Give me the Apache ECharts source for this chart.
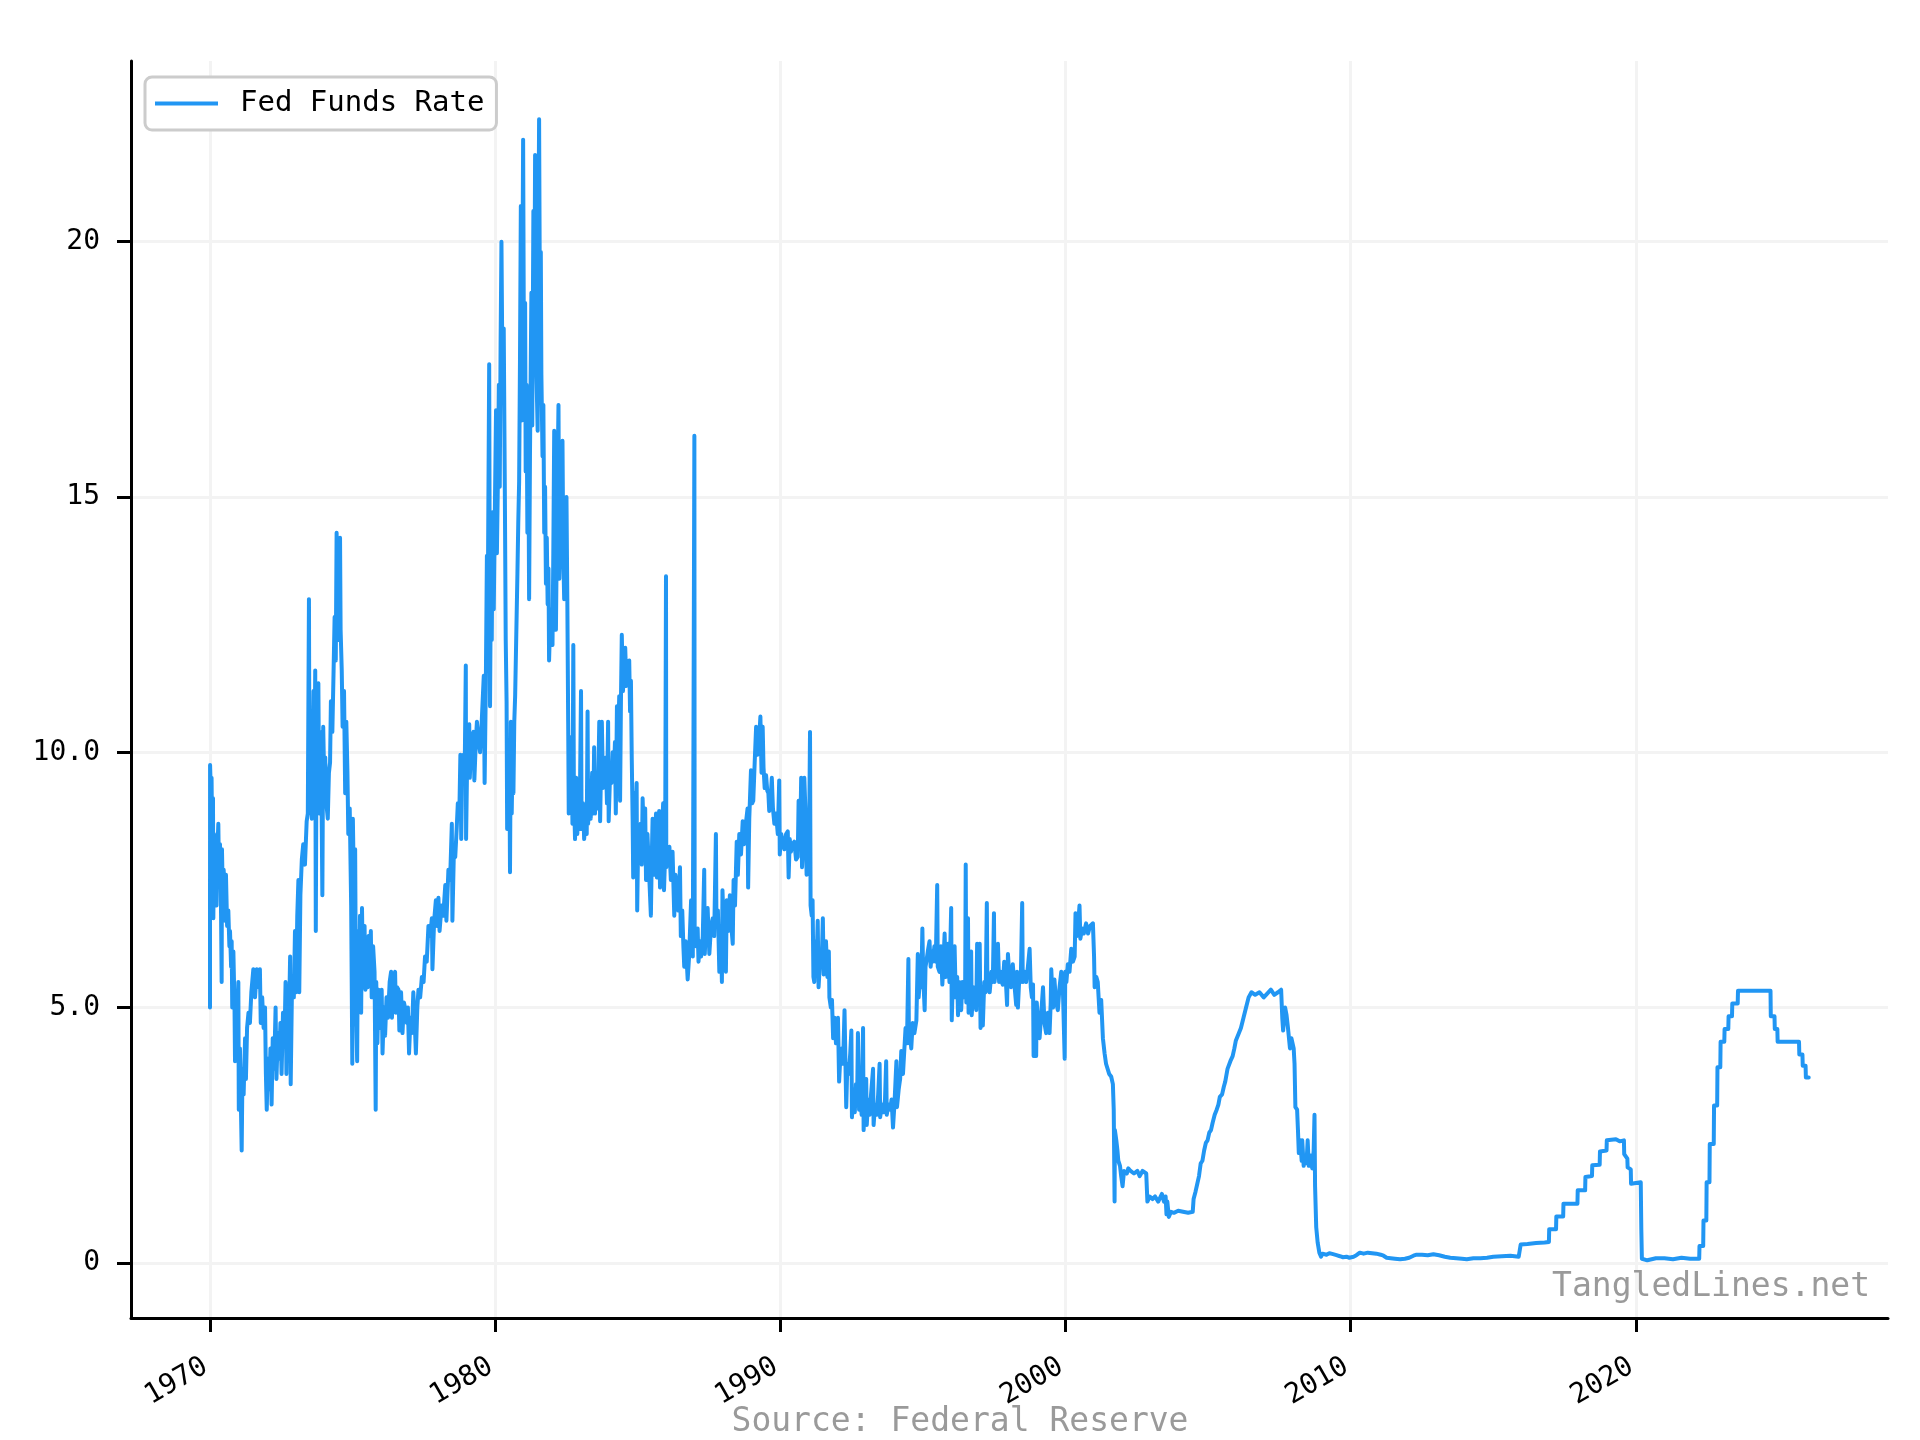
<!DOCTYPE html>
<html><head><meta charset="utf-8">
<script src="https://cdn.jsdelivr.net/npm/echarts@6/dist/echarts.min.js"></script>
<style>html,body{margin:0;padding:0;background:#fff}#c{width:1920px;height:1440px}</style>
</head><body><div id="c"></div>
<script>
const seriesName = 'Fed Funds Rate';
const xTickYears = [1970, 1980, 1990, 2000, 2010, 2020];
const yTickValues = [0, 5, 10, 15, 20];
const yTickLabels = ['0', '5.0', '10.0', '15', '20'];
const watermarkText = 'TangledLines.net';
const sourceText = 'Source: Federal Reserve';

// [decimal year, rate %]
const points1970s = [
[1970.000,5.00],[1970.003,9.75],[1970.030,9.20],[1970.055,9.50],[1970.080,8.00],[1970.105,9.10],[1970.117,6.75],[1970.140,8.40],
[1970.175,7.20],[1970.200,8.20],[1970.230,7.00],[1970.260,8.10],[1970.292,8.60],[1970.320,7.40],[1970.351,8.20],[1970.380,7.30],
[1970.409,5.50],[1970.420,8.10],[1970.450,7.20],[1970.480,7.70],[1970.526,6.70],[1970.560,7.60],[1970.600,6.60],[1970.643,6.90],
[1970.680,6.20],[1970.702,6.50],[1970.740,5.80],[1970.760,6.30],[1970.780,5.00],[1970.820,6.10],[1970.860,5.00],[1970.877,3.95],
[1970.900,5.30],[1970.950,4.50],[1970.994,5.50],[1971.010,3.00],[1971.050,4.20],[1971.080,3.20],[1971.111,2.20],[1971.140,3.80],
[1971.180,3.30],[1971.230,4.40],[1971.260,3.60],[1971.300,4.60],[1971.350,4.90],[1971.400,4.70],[1971.450,5.30],[1971.520,5.75],
[1971.580,5.20],[1971.640,5.75],[1971.700,5.40],[1971.750,5.75],[1971.780,4.70],[1971.830,5.20],[1971.880,4.60],[1971.930,5.00],
[1971.960,3.70],[1971.990,3.00],[1972.030,4.00],[1972.080,3.40],[1972.120,4.20],[1972.160,3.10],[1972.200,4.40],[1972.250,3.80],
[1972.300,5.00],[1972.330,3.60],[1972.380,4.50],[1972.430,4.00],[1972.470,4.70],[1972.510,3.70],[1972.560,4.90],[1972.610,4.30],
[1972.650,5.50],[1972.680,3.70],[1972.720,5.30],[1972.770,4.80],[1972.810,6.00],[1972.830,3.50],[1972.880,5.60],[1972.940,5.20],
[1972.980,6.50],[1973.020,5.30],[1973.060,6.80],[1973.100,7.50],[1973.130,5.30],[1973.170,7.20],[1973.220,7.90],[1973.270,8.20],
[1973.330,7.80],[1973.390,8.65],[1973.430,8.80],[1973.470,13.00],[1973.490,8.90],[1973.530,10.20],[1973.570,8.70],[1973.600,9.95],
[1973.630,11.20],[1973.660,9.60],[1973.690,11.60],[1973.710,6.50],[1973.740,10.80],[1973.770,9.30],[1973.800,11.35],[1973.830,8.80],
[1973.870,10.40],[1973.910,9.20],[1973.940,7.20],[1973.970,10.50],[1974.010,9.30],[1974.040,9.90],[1974.080,9.00],[1974.130,8.70],
[1974.170,9.60],[1974.210,9.80],[1974.240,11.00],[1974.290,10.40],[1974.330,11.50],[1974.370,12.65],[1974.410,11.80],[1974.440,14.30],
[1974.480,12.20],[1974.520,13.00],[1974.560,14.20],[1974.580,12.40],[1974.620,11.60],[1974.650,10.50],[1974.700,11.20],[1974.740,9.20],
[1974.780,10.60],[1974.820,9.60],[1974.850,8.40],[1974.900,8.90],[1974.950,7.00],[1974.990,3.90],[1975.010,8.70],[1975.050,7.20],
[1975.090,8.10],[1975.120,5.00],[1975.160,3.95],[1975.190,6.50],[1975.230,5.20],[1975.260,6.80],[1975.300,4.90],[1975.330,6.95],
[1975.370,5.40],[1975.420,6.60],[1975.450,5.35],[1975.490,6.20],[1975.530,5.40],[1975.560,6.40],[1975.600,5.60],[1975.640,6.50],
[1975.670,5.20],[1975.720,6.20],[1975.770,5.70],[1975.810,3.00],[1975.830,5.50],[1975.870,4.30],[1975.910,5.35],[1975.960,4.60],
[1976.020,5.35],[1976.050,4.10],[1976.100,5.00],[1976.140,4.45],[1976.190,5.20],[1976.240,4.80],[1976.300,5.50],[1976.350,5.70],
[1976.380,4.80],[1976.430,5.60],[1976.490,5.70],[1976.520,4.90],[1976.560,5.40],[1976.610,5.35],[1976.640,4.55],[1976.700,5.30],
[1976.750,4.50],[1976.800,5.10],[1976.840,5.00],[1976.900,4.70],[1976.940,5.00],[1976.980,4.10],[1977.030,4.80],[1977.080,4.50],
[1977.130,5.30],[1977.180,4.70],[1977.220,4.10],[1977.270,5.00],[1977.310,5.35],[1977.370,5.20],[1977.430,5.60],[1977.490,5.50],
[1977.540,6.00],[1977.600,5.90],[1977.660,6.60],[1977.720,6.40],[1977.780,6.75],[1977.800,5.75],[1977.860,6.70],[1977.920,7.10],
[1977.960,6.60],[1978.010,7.15],[1978.050,6.50],[1978.120,7.00],[1978.180,6.80],[1978.250,7.40],[1978.290,6.70],[1978.360,7.70],
[1978.420,7.50],[1978.480,8.60],[1978.500,6.70],[1978.550,8.00],[1978.600,7.95],[1978.650,8.50],[1978.690,9.00],[1978.740,8.70],
[1978.780,9.95],[1978.810,8.30],[1978.850,9.90],[1978.890,9.95],[1978.930,9.60],[1978.970,11.70],[1978.980,8.30],[1979.030,10.30],
[1979.090,10.55],[1979.110,9.50],[1979.170,10.30],[1979.240,10.40],[1979.270,9.45],[1979.320,10.20],[1979.360,10.60],[1979.420,10.20],
[1979.470,10.00],[1979.520,10.50],[1979.560,11.00],[1979.600,11.50],[1979.630,9.40],[1979.670,11.20],[1979.710,13.85],[1979.730,11.80],
[1979.790,17.60],[1979.820,10.90],[1979.850,13.50],[1979.880,12.20],[1979.910,14.70],[1979.950,12.80],[1979.990,14.80]
];

const points1980s = [
[1980.030,16.70],[1980.060,13.90],[1980.100,15.50],[1980.130,17.20],[1980.160,15.20],[1980.190,18.00],[1980.220,20.00],[1980.260,17.00],
[1980.300,18.30],[1980.340,15.00],[1980.370,12.20],[1980.400,11.00],[1980.420,8.50],[1980.450,10.20],[1980.480,8.60],[1980.500,9.80],
[1980.520,7.65],[1980.550,10.60],[1980.580,8.80],[1980.610,9.90],[1980.640,9.20],[1980.670,10.60],[1980.700,11.10],[1980.740,12.30],
[1980.780,13.50],[1980.810,14.50],[1980.840,15.30],[1980.870,17.70],[1980.900,20.70],[1980.930,16.50],[1980.980,22.00],[1981.010,17.50],
[1981.050,18.80],[1981.070,15.50],[1981.100,17.20],[1981.130,14.30],[1981.160,16.50],[1981.190,13.00],[1981.220,15.80],[1981.270,19.00],
[1981.300,16.40],[1981.340,20.60],[1981.370,18.00],[1981.400,21.70],[1981.440,17.60],[1981.490,16.30],[1981.520,20.40],[1981.540,22.40],
[1981.570,18.50],[1981.600,19.80],[1981.620,17.40],[1981.660,15.80],[1981.690,16.80],[1981.720,14.30],[1981.750,15.20],[1981.780,13.30],
[1981.810,14.20],[1981.840,12.90],[1981.870,13.60],[1981.890,11.80],[1981.940,12.80],[1982.010,12.10],[1982.040,14.00],[1982.070,16.30],
[1982.100,13.50],[1982.130,12.40],[1982.170,14.60],[1982.220,16.80],[1982.250,13.40],[1982.300,14.90],[1982.360,16.10],[1982.390,13.80],
[1982.420,13.00],[1982.460,14.20],[1982.500,15.00],[1982.530,13.00],[1982.560,10.60],[1982.580,8.80],[1982.610,10.30],[1982.640,9.20],
[1982.680,10.00],[1982.710,8.60],[1982.740,12.10],[1982.760,9.20],[1982.800,8.30],[1982.840,9.50],[1982.880,8.40],[1982.920,9.20],
[1982.960,8.50],[1983.010,11.20],[1983.030,8.50],[1983.080,9.00],[1983.120,8.30],[1983.170,8.70],[1983.210,8.40],[1983.240,10.80],
[1983.260,8.60],[1983.310,9.20],[1983.350,8.70],[1983.400,9.60],[1983.440,8.80],[1983.470,10.10],[1983.500,8.80],[1983.550,9.50],
[1983.600,8.90],[1983.650,10.60],[1983.680,8.65],[1983.740,10.60],[1983.780,9.30],[1983.840,9.50],[1983.880,9.90],[1983.920,9.00],
[1983.960,10.60],[1983.980,8.65],[1984.030,9.60],[1984.080,9.40],[1984.120,10.00],[1984.160,9.50],[1984.200,10.20],[1984.230,8.80],
[1984.270,10.90],[1984.310,10.20],[1984.350,11.10],[1984.380,9.05],[1984.410,11.00],[1984.440,12.30],[1984.480,11.20],[1984.520,11.60],
[1984.560,12.05],[1984.600,11.30],[1984.650,11.60],[1984.700,11.80],[1984.730,10.80],[1984.760,11.40],[1984.790,9.85],[1984.820,8.70],
[1984.840,7.55],[1984.880,9.20],[1984.920,8.40],[1984.960,9.40],[1984.980,6.90],[1985.020,8.50],[1985.050,8.00],[1985.100,8.60],
[1985.140,7.80],[1985.170,9.10],[1985.220,8.20],[1985.260,8.90],[1985.290,7.50],[1985.340,8.40],[1985.400,7.60],[1985.460,6.80],
[1985.490,7.90],[1985.520,8.70],[1985.560,7.60],[1985.600,8.20],[1985.640,8.80],[1985.670,7.55],[1985.710,8.20],[1985.750,8.85],
[1985.780,7.35],[1985.830,8.20],[1985.890,9.00],[1985.920,7.30],[1985.960,8.00],[1985.990,13.45],[1986.000,7.75],[1986.050,8.00],
[1986.110,8.15],[1986.160,7.50],[1986.220,8.05],[1986.280,6.80],[1986.320,7.60],[1986.360,7.40],[1986.420,6.90],[1986.480,7.75],
[1986.510,6.40],[1986.560,6.90],[1986.600,6.20],[1986.630,5.80],[1986.680,6.30],[1986.750,5.55],[1986.800,6.00],[1986.870,7.10],
[1986.930,6.00],[1986.985,16.20],[1986.995,6.45],[1987.040,6.20],[1987.100,6.55],[1987.130,5.90],[1987.180,6.30],[1987.220,6.00],
[1987.280,6.40],[1987.330,7.70],[1987.350,6.05],[1987.400,6.70],[1987.450,6.95],[1987.480,6.50],[1987.510,6.05],[1987.570,6.60],
[1987.630,6.75],[1987.680,6.40],[1987.740,8.40],[1987.760,6.60],[1987.810,6.90],[1987.860,5.70],[1987.910,6.60],[1987.950,5.50],
[1987.970,7.30],[1988.020,6.50],[1988.060,6.80],[1988.090,5.70],[1988.120,7.10],[1988.170,6.50],[1988.230,7.20],[1988.280,6.60],
[1988.330,6.25],[1988.360,7.50],[1988.410,7.00],[1988.470,8.25],[1988.510,7.60],[1988.560,8.40],[1988.620,8.00],[1988.680,8.65],
[1988.730,8.20],[1988.790,8.60],[1988.850,8.90],[1988.870,7.35],[1988.910,8.70],[1988.970,9.65],[1989.010,9.00],[1989.050,9.05],
[1989.100,9.80],[1989.150,10.50],[1989.200,9.95],[1989.250,10.20],[1989.300,10.70],[1989.340,9.60],[1989.380,10.50],[1989.410,9.70],
[1989.450,9.30],[1989.500,9.55],[1989.540,9.25],[1989.580,9.20],[1989.610,8.85],[1989.660,9.10],[1989.700,9.50],[1989.740,8.90],
[1989.790,8.60],[1989.850,8.80],[1989.910,8.40],[1989.960,9.45],[1989.980,8.00]
];

const points1990s = [
[1990.030,8.40],[1990.080,8.25],[1990.140,8.10],[1990.200,8.40],[1990.260,8.45],[1990.290,7.55],[1990.330,8.30],[1990.370,8.05],
[1990.430,8.20],[1990.490,8.25],[1990.550,7.90],[1990.610,7.95],[1990.640,9.05],[1990.690,8.10],[1990.730,9.50],[1990.760,7.75],
[1990.800,8.30],[1990.840,9.50],[1990.880,8.85],[1990.920,7.60],[1990.960,8.70],[1991.000,7.80],[1991.040,10.40],[1991.060,7.00],
[1991.100,6.80],[1991.130,7.10],[1991.160,5.60],[1991.190,5.50],[1991.230,6.30],[1991.270,5.90],[1991.310,6.70],[1991.340,5.40],
[1991.400,6.00],[1991.450,5.90],[1991.490,6.75],[1991.520,5.65],[1991.560,6.00],[1991.600,6.30],[1991.650,5.60],[1991.700,6.10],
[1991.720,5.20],[1991.770,5.00],[1991.810,5.15],[1991.850,4.40],[1991.900,4.80],[1991.950,4.30],[1992.020,4.80],[1992.060,3.55],
[1992.100,4.00],[1992.150,4.20],[1992.200,3.90],[1992.250,4.95],[1992.280,4.00],[1992.310,3.05],[1992.350,3.90],[1992.400,3.70],
[1992.450,4.10],[1992.490,4.55],[1992.510,2.85],[1992.560,3.40],[1992.610,2.95],[1992.650,3.50],[1992.690,3.10],[1992.720,4.50],
[1992.760,3.00],[1992.800,3.30],[1992.850,2.90],[1992.900,4.60],[1992.920,2.60],[1992.960,3.30],[1993.010,3.60],[1993.030,2.70],
[1993.080,3.20],[1993.130,2.90],[1993.180,3.30],[1993.250,3.80],[1993.270,2.70],[1993.320,3.10],[1993.380,2.90],[1993.430,3.30],
[1993.480,3.90],[1993.500,2.85],[1993.560,3.10],[1993.620,2.95],[1993.670,3.20],[1993.710,3.95],[1993.730,2.90],[1993.790,3.10],
[1993.850,3.00],[1993.900,3.20],[1993.950,2.65],[1994.000,3.10],[1994.070,3.95],[1994.090,3.05],[1994.150,3.40],[1994.200,3.60],
[1994.240,4.15],[1994.300,3.70],[1994.350,4.20],[1994.390,4.60],[1994.440,4.30],[1994.490,5.95],[1994.510,4.30],[1994.560,4.40],
[1994.590,4.20],[1994.640,4.70],[1994.700,4.50],[1994.770,4.75],[1994.820,6.05],[1994.850,5.20],[1994.900,5.60],[1994.940,5.40],
[1994.980,6.55],[1995.010,5.60],[1995.060,4.95],[1995.090,5.80],[1995.120,5.90],[1995.170,6.10],[1995.230,6.30],[1995.270,5.80],
[1995.310,6.10],[1995.350,5.90],[1995.400,6.20],[1995.450,5.90],[1995.500,7.40],[1995.520,5.80],[1995.580,5.70],[1995.630,6.20],
[1995.680,5.45],[1995.720,5.90],[1995.760,6.45],[1995.800,5.60],[1995.850,5.90],[1995.880,6.25],[1995.930,5.50],[1995.990,6.95],
[1996.010,4.75],[1996.060,5.80],[1996.110,6.20],[1996.150,5.20],[1996.200,5.60],[1996.230,4.85],[1996.270,5.50],[1996.340,4.95],
[1996.380,5.50],[1996.430,5.20],[1996.480,5.40],[1996.500,7.80],[1996.520,5.10],[1996.580,6.75],[1996.600,4.90],[1996.650,5.60],
[1996.690,6.10],[1996.710,4.85],[1996.770,5.40],[1996.820,5.20],[1996.870,4.95],[1996.900,6.25],[1996.940,5.30],[1996.990,6.25],
[1997.020,4.60],[1997.060,5.40],[1997.100,4.65],[1997.150,5.50],[1997.200,5.30],[1997.240,7.05],[1997.260,5.40],[1997.300,5.60],
[1997.340,5.30],[1997.400,5.70],[1997.450,5.50],[1997.490,6.85],[1997.510,5.50],[1997.570,5.80],[1997.630,6.25],[1997.670,5.50],
[1997.720,5.70],[1997.760,5.50],[1997.800,5.45],[1997.850,5.90],[1997.900,5.60],[1997.950,5.05],[1997.980,6.05],[1998.030,5.60],
[1998.090,5.40],[1998.150,5.85],[1998.200,5.50],[1998.270,5.05],[1998.300,5.70],[1998.330,5.00],[1998.380,5.60],[1998.430,5.50],
[1998.480,7.05],[1998.500,5.50],[1998.560,5.70],[1998.620,5.50],[1998.680,5.80],[1998.740,6.15],[1998.780,5.40],[1998.820,5.20],
[1998.860,5.45],[1998.880,4.05],[1998.930,5.10],[1998.970,4.05],[1998.990,5.10],[1999.040,4.70],[1999.090,4.40],[1999.150,4.90],
[1999.210,5.40],[1999.260,4.70],[1999.320,4.50],[1999.380,4.90],[1999.440,4.50],[1999.480,5.10],[1999.500,5.75],[1999.560,5.00],
[1999.610,5.55],[1999.670,5.10],[1999.730,4.95],[1999.790,5.40],[1999.850,5.70],[1999.910,5.30],[1999.970,4.00],[1999.990,5.70]
];

const points2000s = [
[2000.030,5.50],[2000.080,5.85],[2000.140,5.70],[2000.200,6.15],[2000.260,5.90],[2000.320,6.00],[2000.350,6.85],[2000.390,6.40],
[2000.430,6.55],[2000.490,7.00],[2000.520,6.35],[2000.580,6.55],[2000.640,6.45],[2000.720,6.65],[2000.790,6.45],[2000.860,6.60],
[2000.960,6.65],[2001.000,6.00],[2001.020,5.40],[2001.080,5.60],[2001.130,5.50],[2001.190,4.90],[2001.250,5.15],[2001.310,4.40],
[2001.370,4.10],[2001.420,3.90],[2001.480,3.90],[2001.530,3.70],[2001.600,3.65],[2001.660,3.50],[2001.690,3.00],[2001.720,1.20],
[2001.730,2.60],[2001.780,2.40],[2001.820,2.20],[2001.850,2.00],[2001.910,1.90],[2001.950,1.70],[2002.000,1.50],[2002.050,1.80],
[2002.150,1.75],[2002.200,1.85],[2002.280,1.80],[2002.400,1.75],[2002.520,1.80],[2002.600,1.70],[2002.700,1.80],[2002.830,1.75],
[2002.870,1.20],[2002.950,1.30],[2003.050,1.25],[2003.140,1.30],[2003.250,1.20],[2003.380,1.35],[2003.450,1.20],[2003.510,1.30],
[2003.540,0.95],[2003.570,1.20],[2003.620,0.90],[2003.700,1.00],[2003.800,0.98],[2003.950,1.02],[2004.120,1.00],[2004.300,0.98],
[2004.460,1.00],[2004.490,1.25],[2004.560,1.40],[2004.620,1.55],[2004.680,1.70],[2004.740,1.95],[2004.800,2.00],[2004.860,2.20],
[2004.920,2.35],[2004.980,2.40],[2005.040,2.55],[2005.100,2.60],[2005.160,2.75],[2005.230,2.90],[2005.300,3.00],[2005.360,3.10],
[2005.410,3.25],[2005.490,3.30],[2005.550,3.45],[2005.600,3.55],[2005.680,3.80],[2005.780,3.95],[2005.860,4.05],[2005.920,4.20],
[2005.970,4.35],[2006.080,4.50],[2006.150,4.60],[2006.240,4.80],[2006.330,5.00],[2006.420,5.20],[2006.520,5.30],[2006.650,5.25],
[2006.800,5.30],[2006.950,5.20],[2007.080,5.28],[2007.200,5.35],[2007.320,5.25],[2007.450,5.30],[2007.560,5.35],[2007.600,4.80],
[2007.630,4.55],[2007.700,5.00],[2007.750,4.85],[2007.800,4.60],[2007.870,4.20],[2007.920,4.40],[2008.000,4.20],[2008.030,3.90],
[2008.060,3.05],[2008.120,3.00],[2008.150,2.60],[2008.180,2.15],[2008.230,2.40],[2008.280,2.00],[2008.300,2.40],[2008.350,1.90],
[2008.400,2.10],[2008.450,1.95],[2008.490,2.40],[2008.530,1.90],[2008.580,2.05],[2008.610,2.10],[2008.650,1.85],[2008.700,2.20],
[2008.730,2.90],[2008.750,1.50],[2008.790,0.70],[2008.840,0.40],[2008.900,0.20],[2008.960,0.12],[2009.010,0.18],[2009.080,0.20],
[2009.150,0.16],[2009.250,0.19],[2009.380,0.17],[2009.500,0.15],[2009.620,0.13],[2009.730,0.11],[2009.850,0.12],[2009.950,0.10]
];

const points2010s = [
[2010.100,0.12],[2010.200,0.15],[2010.320,0.20],[2010.450,0.18],[2010.600,0.20],[2010.750,0.19],[2010.900,0.18],[2011.050,0.16],
[2011.150,0.14],[2011.260,0.10],[2011.400,0.09],[2011.550,0.08],[2011.730,0.07],[2011.900,0.08],[2012.050,0.10],[2012.200,0.14],
[2012.310,0.16],[2012.500,0.16],[2012.700,0.15],[2012.900,0.17],[2013.100,0.15],[2013.300,0.12],[2013.490,0.10],[2013.700,0.09],
[2013.900,0.08],[2014.070,0.07],[2014.300,0.09],[2014.550,0.09],[2014.780,0.10],[2015.000,0.12],[2015.300,0.13],[2015.600,0.14],
[2015.890,0.12],[2015.960,0.36],[2016.200,0.37],[2016.500,0.39],[2016.800,0.40],[2016.950,0.41],[2016.960,0.66],[2017.200,0.66],
[2017.210,0.91],[2017.450,0.91],[2017.460,1.16],[2017.950,1.16],[2017.960,1.42],[2018.220,1.42],[2018.230,1.68],[2018.460,1.70],
[2018.470,1.91],[2018.730,1.92],[2018.740,2.18],[2018.970,2.20],[2018.980,2.40],[2019.300,2.42],[2019.430,2.38],[2019.580,2.40],
[2019.590,2.13],[2019.700,2.04],[2019.710,1.87],[2019.820,1.83],[2019.830,1.55]
];

const points2020s = [
[2020.170,1.58],[2020.190,0.65],[2020.210,0.08],[2020.400,0.05],[2020.700,0.09],[2021.000,0.09],[2021.300,0.07],[2021.600,0.10],
[2021.900,0.08],[2022.220,0.08],[2022.230,0.33],[2022.360,0.33],[2022.370,0.83],[2022.470,0.83],[2022.480,1.58],[2022.580,1.58],
[2022.590,2.33],[2022.730,2.33],[2022.740,3.08],[2022.850,3.08],[2022.860,3.83],[2022.960,3.83],[2022.970,4.33],[2023.100,4.33],
[2023.110,4.58],[2023.240,4.58],[2023.250,4.83],[2023.370,4.83],[2023.380,5.08],[2023.570,5.08],[2023.580,5.33],[2024.720,5.33],
[2024.730,4.83],[2024.860,4.83],[2024.870,4.58],[2024.960,4.58],[2024.970,4.33],[2025.720,4.33],[2025.730,4.08],[2025.840,4.08],
[2025.850,3.86],[2025.950,3.86],[2025.960,3.63],[2026.060,3.63]
];

const rateData = [].concat(points1970s, points1980s, points1990s, points2000s, points2010s, points2020s);

const FONT = 'DejaVu Sans Mono';
const chart = echarts.init(document.getElementById('c'), null, {renderer: 'canvas', width: 1920, height: 1440});
chart.setOption({
  animation: false,
  backgroundColor: '#ffffff',
  grid: {left: 131, right: 32, top: 61, bottom: 122, containLabel: false, outerBoundsMode: 'none'},
  legend: {
    left: 145, top: 77,
    padding: [12, 12, 12, 10],
    itemWidth: 63, itemHeight: 4, icon: 'rect',
    borderColor: '#cccccc', borderWidth: 3, borderRadius: 7,
    backgroundColor: '#ffffff',
    textStyle: {fontFamily: FONT, fontSize: 29, color: '#000', padding: [0, 0, 0, 17]},
    data: [seriesName]
  },
  xAxis: {
    type: 'value', min: 1967.23, max: 2028.84,
    axisLine: {show: true, onZero: false, lineStyle: {color: '#000', width: 3}},
    axisTick: {show: true, customValues: xTickYears, length: 14, lineStyle: {color: '#000', width: 3}},
    axisLabel: {customValues: xTickYears, rotate: 30, margin: 44, fontFamily: FONT, fontSize: 28, color: '#000',
      padding: [0, 5, 0, 0],
      formatter: v => String(Math.round(v))},
    splitLine: {show: true, lineStyle: {color: '#f3f3f3', width: 3}}
  },
  yAxis: {
    type: 'value', min: -1.08, max: 23.54,
    axisLine: {show: true, onZero: false, lineStyle: {color: '#000', width: 3}},
    axisTick: {show: true, customValues: yTickValues, length: 14, lineStyle: {color: '#000', width: 3}},
    axisLabel: {customValues: yTickValues, margin: 31, fontFamily: FONT, fontSize: 28, color: '#000',
      formatter: v => { const i = yTickValues.indexOf(Math.round(v)); return i >= 0 ? yTickLabels[i] : ''; }},
    splitLine: {show: true, lineStyle: {color: '#f3f3f3', width: 3}}
  },
  series: [{
    name: seriesName, type: 'line', data: rateData,
    showSymbol: false, symbol: 'none', sampling: null, clip: true,
    color: '#2196f3',
    lineStyle: {color: '#2196f3', width: 4, cap: 'round', join: 'round'},
    z: 5
  }],
  graphic: [
    {type: 'text', z: 10, style: {x: 1870, y: 1287, text: watermarkText, textAlign: 'right', textVerticalAlign: 'middle',
      fontFamily: FONT, fontSize: 33, fill: '#9a9a9a'}},
    {type: 'text', z: 10, style: {x: 960, y: 1422, text: sourceText, textAlign: 'center', textVerticalAlign: 'middle',
      fontFamily: FONT, fontSize: 33, fill: '#9a9a9a'}}
  ]
});
</script></body></html>
